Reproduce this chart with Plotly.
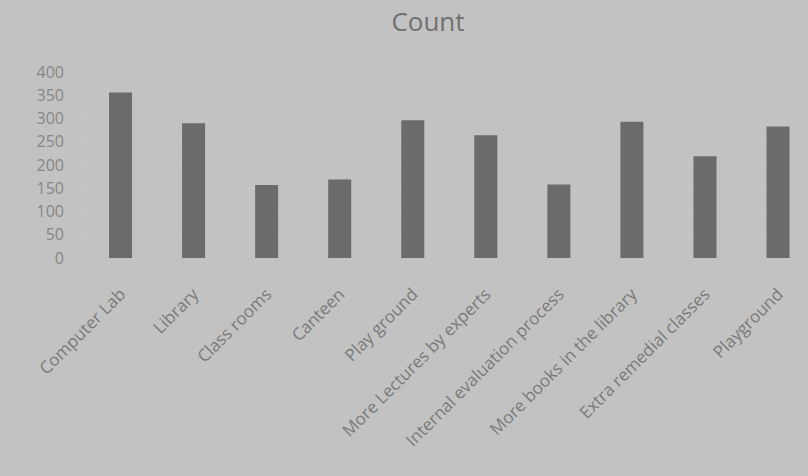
import plotly.graph_objects as go

categories = ["Computer Lab", "Library", "Class rooms", "Canteen", "Play ground",
              "More Lectures by experts", "Internal evaluation process",
              "More books in the library", "Extra remedial classes", "Playground"]
counts = [356, 290, 157, 169, 296, 264, 158, 293, 219, 283]
y_ticks = [0, 50, 100, 150, 200, 250, 300, 350, 400]

fig = go.Figure(go.Bar(x=categories, y=counts, marker_color="#6b6b6b",
                       marker_line_width=0, width=0.315))

fig.update_layout(
    width=808, height=476,
    paper_bgcolor="#c2c2c2", plot_bgcolor="#c2c2c2",
    margin=dict(l=84, r=0, t=72, b=218),
    title=dict(text="Count", x=428/808, xanchor="center", y=1-22/476, yanchor="middle",
               font=dict(family="Open Sans", size=26, color="#707070")),
    font=dict(family="Open Sans", color="#7a7a7a"),
    showlegend=False,
)
fig.update_yaxes(range=[0, 400], tickvals=y_ticks, showgrid=True, gridcolor="#c6c6c6",
                 zeroline=False, showline=False, tickfont=dict(size=16, color="#878787"),
                 ticklabelstandoff=19)
fig.update_xaxes(range=[-0.5, 9.41], tickangle=-45, tickfont=dict(size=17, color="#7a7a7a"),
                 showline=False, showgrid=False, ticklabelstandoff=22)

fig.write_html("out.html", config={"displayModeBar": False},
               post_script="document.body.style.margin='0';document.body.style.background='#c2c2c2';")
